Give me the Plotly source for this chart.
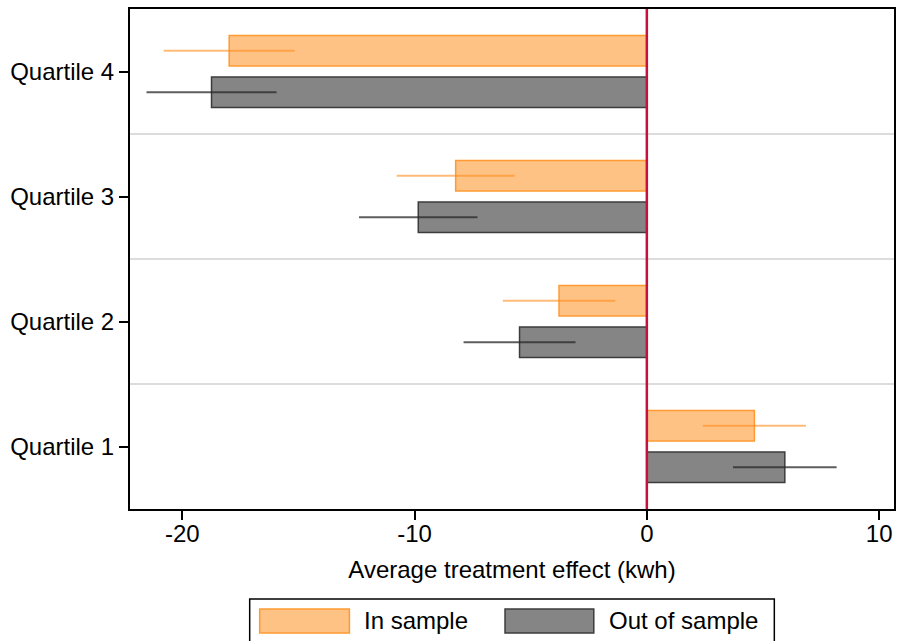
import plotly.graph_objects as go

# ---- data ----
categories = ["Quartile 1", "Quartile 2", "Quartile 3", "Quartile 4"]
positions = [1, 2, 3, 4]
in_sample = [4.63, -3.78, -8.23, -17.98]
in_err = [2.22, 2.42, 2.54, 2.82]
out_sample = [5.94, -5.48, -9.84, -18.74]
out_err = [2.23, 2.41, 2.55, 2.80]
x_ticks = [-20, -10, 0, 10]
x_tick_labels = ["-20", "-10", "0", "10"]
legend_labels = ["In sample", "Out of sample"]

W, H = 897, 641
ML, MR, MT, MB = 130, 1, 9, 132
PW, PH = W - ML - MR, H - MT - MB

def px(x):
    return (x - ML) / PW

def py(y):
    return (MT + PH - y) / PH

FONT = "Arial, Liberation Sans, sans-serif"
FS = 24
ORANGE_FILL = "#FFC285"
ORANGE_LINE = "#FF9A33"
GRAY_FILL = "#858585"
GRAY_LINE = "#3C3C3C"

fig = go.Figure()
fig.add_trace(go.Bar(
    y=positions, x=out_sample, orientation="h", name=legend_labels[1],
    marker=dict(color=GRAY_FILL, line=dict(color=GRAY_LINE, width=1.5)),
    error_x=dict(type="data", array=out_err, color="rgba(40,40,40,0.75)",
                 thickness=2, width=0),
    showlegend=False,
))
fig.add_trace(go.Bar(
    y=positions, x=in_sample, orientation="h", name=legend_labels[0],
    marker=dict(color=ORANGE_FILL, line=dict(color=ORANGE_LINE, width=1.5)),
    error_x=dict(type="data", array=in_err, color="rgba(255,140,30,0.6)",
                 thickness=2, width=0),
    showlegend=False,
))

fig.update_layout(
    width=W, height=H,
    margin=dict(l=ML, r=MR, t=MT, b=MB),
    plot_bgcolor="white", paper_bgcolor="white",
    barmode="group", bargap=0.336, bargroupgap=0.271,
    font=dict(family=FONT, size=FS, color="black"),
    showlegend=False,
)
fig.update_xaxes(
    range=[-22.25, 10.64], tickvals=x_ticks, ticktext=x_tick_labels,
    ticks="outside", ticklen=9, ticklabelstandoff=-7,
    tickwidth=1.5, tickcolor="black", showgrid=False, zeroline=False,
    showline=True, linecolor="black", linewidth=2, mirror=True,
    title=dict(text="Average treatment effect (kwh)", standoff=15,
               font=dict(size=FS)),
    tickfont=dict(size=FS),
)
fig.update_yaxes(
    range=[0.5, 4.5], tickvals=positions, ticktext=categories,
    ticks="outside", ticklen=9, tickwidth=1.5, tickcolor="black",
    showgrid=False, zeroline=False,
    showline=True, linecolor="black", linewidth=2, mirror=True,
    tickfont=dict(size=FS),
    minor=dict(tickvals=[1.5, 2.5, 3.5], showgrid=True, gridcolor="#DCDCDC",
               gridwidth=2, ticks=""),
)

# zero reference line
fig.add_shape(type="line", xref="x", yref="paper", x0=0, x1=0, y0=0, y1=1,
              line=dict(color="#C8103C", width=2.5), layer="above")

# custom legend
fig.add_shape(type="rect", xref="paper", yref="paper",
              x0=px(250), x1=px(776), y0=py(660), y1=py(599),
              line=dict(color="black", width=1.5), fillcolor="white")
fig.add_shape(type="rect", xref="paper", yref="paper",
              x0=px(260), x1=px(350), y0=py(633), y1=py(609),
              line=dict(color=ORANGE_LINE, width=1.5), fillcolor=ORANGE_FILL)
fig.add_shape(type="rect", xref="paper", yref="paper",
              x0=px(506), x1=px(595), y0=py(633), y1=py(609),
              line=dict(color=GRAY_LINE, width=1.5), fillcolor=GRAY_FILL)
fig.add_annotation(xref="paper", yref="paper", x=px(363), y=py(620),
                   text=legend_labels[0], showarrow=False, xanchor="left",
                   yanchor="middle", font=dict(size=FS))
fig.add_annotation(xref="paper", yref="paper", x=px(608), y=py(620),
                   text=legend_labels[1], showarrow=False, xanchor="left",
                   yanchor="middle", font=dict(size=FS))

fig.write_html(
    "out.html",
    config={"displayModeBar": False},
    post_script="document.body.style.margin='0';document.body.style.overflow='hidden';",
)
